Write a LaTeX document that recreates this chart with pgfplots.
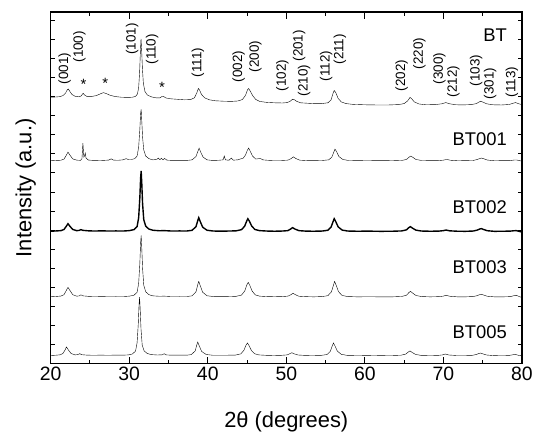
\documentclass[border=0pt]{standalone}
\usepackage{pgfplots}
\pgfplotsset{compat=1.18}
\usepackage{pgfplotstable}
\usepackage{fontspec}
\setmainfont{Liberation Sans}

% XRD patterns, intensity relative to each trace's own baseline
\pgfplotstableread{
x y
20.0 8.2
20.6 8.4
21.2 8.8
21.6 10
21.9 12.5
22.1 15.5
22.25 16.5
22.4 14.5
22.7 11
23.1 9.2
23.6 8.6
23.9 9.6
24.05 11.5
24.15 12
24.3 10.5
24.6 9.0
25.2 9.0
25.8 9.8
26.3 11.5
26.7 12.8
27.1 11.8
27.6 10
28.3 8.8
29.0 8.2
29.8 8.0
30.4 8.2
30.8 9
31.05 11.5
31.2 18
31.32 33
31.42 54
31.5 67
31.58 56
31.68 37
31.8 22
32.0 14
32.3 10.5
32.8 8.6
33.4 7.6
33.9 7.6
34.15 8.8
34.35 9.0
34.7 7.4
35.3 6.6
36.0 6.2
37.0 5.6
37.8 5.8
38.3 7.6
38.6 12.5
38.8 17
38.95 15.5
39.2 11
39.6 7.6
40.2 5.6
41.0 4.6
42.0 4.2
43.0 4.0
43.8 4.4
44.4 5.8
44.8 10
45.05 15.5
45.2 17
45.4 14.5
45.7 10
46.1 6
46.6 4
47.5 3
48.5 2.6
49.5 2.4
50.1 2.8
50.5 4.2
50.8 6.2
51.0 5.8
51.3 4.2
51.8 2.6
52.6 2.2
53.5 1.8
54.5 1.8
55.3 2.6
55.7 5.5
55.95 12
56.1 15
56.3 12.8
56.6 7
57.0 3.5
57.6 1.8
58.5 1.0
60.0 0.6
61.5 0.4
63.0 0.4
64.3 0.8
65.0 1.8
65.45 4.5
65.75 8
65.95 6.8
66.3 3.5
66.9 1.4
67.8 0.6
69.0 0.8
69.8 1.6
70.3 2.8
70.8 1.6
71.6 0.6
72.6 0.5
73.6 0.8
74.2 1.8
74.55 3.4
74.75 4.2
75.0 3.4
75.5 1.6
76.3 0.6
77.4 0.4
78.4 0.9
78.9 2.2
79.2 2.8
79.6 1.6
80.0 0.8
}\bt

\pgfplotstableread{
x y
20.0 0.3
20.7 0.6
21.3 0.8
21.7 2.0
22.0 6.0
22.2 9.0
22.45 6.0
22.8 2.2
23.3 0.9
23.8 0.7
23.98 2.5
24.1 18
24.22 4
24.3 5
24.4 8
24.5 3
24.8 1.0
25.5 0.6
26.2 0.8
26.8 0.7
27.4 1.0
27.7 2.2
28.0 0.9
28.6 0.8
29.2 1.2
29.6 2.4
29.9 1.5
30.3 1.6
30.7 2.4
31.0 5
31.2 14
31.35 32
31.45 48
31.52 52
31.6 40
31.7 24
31.85 11
32.1 5
32.5 2.4
33.0 1.2
33.5 1.6
33.7 3.0
33.9 1.4
34.1 2.8
34.3 1.2
34.5 2.6
34.8 0.9
35.6 0.6
36.5 0.7
37.3 0.6
38.0 1.2
38.5 4.5
38.75 10
38.9 13
39.1 9
39.4 4
39.9 1.2
40.6 0.6
41.4 0.8
41.95 1.2
42.1 5
42.25 1.2
42.7 0.8
43.0 3
43.25 0.9
43.8 1.2
44.2 2.2
44.5 2.8
44.8 6
45.05 11
45.2 13
45.4 10
45.7 5
46.1 2.0
46.5 2.4
46.7 2.6
47.0 1.2
47.6 0.8
48.5 0.5
49.4 0.6
50.2 0.9
50.6 2.4
50.9 4.2
51.2 2.6
51.7 0.9
52.6 0.5
53.6 0.4
54.6 0.6
55.4 1.2
55.8 4
56.05 9
56.2 12
56.4 9.5
56.7 4.5
57.2 1.6
57.9 0.6
59.0 0.4
60.5 0.3
62.0 0.5
63.5 0.3
64.7 0.6
65.3 1.6
65.65 4
65.85 5
66.1 3.8
66.5 1.6
67.2 0.6
68.3 0.4
69.4 0.5
70.0 0.9
70.45 1.6
70.9 0.8
71.8 0.3
72.8 0.4
73.8 0.6
74.3 1.5
74.65 2.6
74.85 3.0
75.1 2.4
75.6 1.0
76.5 0.3
77.6 0.4
78.5 0.5
79.0 1.0
79.3 1.1
79.7 0.4
80.0 0.0
}\btA

\pgfplotstableread{
x y
20.0 0.4
20.7 0.7
21.3 1.0
21.7 2.2
22.0 5.6
22.2 8.0
22.45 5.4
22.8 2.2
23.3 1.0
23.6 1.2
23.85 2.0
24.1 1.3
24.8 0.8
25.6 0.6
26.5 0.8
27.4 0.6
28.3 0.7
29.2 0.6
30.0 1.0
30.6 2.0
31.0 5
31.2 14
31.35 34
31.45 54
31.52 61
31.6 48
31.7 28
31.85 12
32.1 5.5
32.5 2.6
33.0 1.4
33.8 0.9
34.5 1.0
35.4 0.6
36.4 0.7
37.3 0.6
38.0 1.3
38.5 5
38.72 11
38.85 14
39.05 10
39.35 4.5
39.9 1.4
40.7 0.6
41.7 0.5
42.7 0.6
43.6 0.8
44.3 2
44.7 5.5
44.95 10.5
45.1 13
45.3 10.5
45.6 5.5
46.0 2.2
46.6 1.0
47.5 0.6
48.5 0.4
49.5 0.6
50.2 1.0
50.55 2.6
50.8 4.0
51.1 2.6
51.6 1.0
52.5 0.5
53.5 0.4
54.6 0.6
55.3 1.4
55.7 4.5
55.95 10
56.1 13
56.3 10
56.6 4.8
57.1 1.6
57.8 0.6
59.0 0.4
60.5 0.5
62.0 0.3
63.5 0.4
64.7 0.7
65.3 1.8
65.6 4
65.8 5
66.05 3.6
66.5 1.5
67.2 0.6
68.3 0.4
69.4 0.5
70.0 1.0
70.35 1.6
70.8 0.8
71.8 0.4
72.8 0.3
73.8 0.6
74.3 1.5
74.65 2.7
74.85 3.0
75.1 2.2
75.6 0.9
76.5 0.3
77.6 0.4
78.5 0.5
79.0 0.9
79.3 1.0
79.7 0.2
80.0 -0.4
}\btB

\pgfplotstableread{
x y
20.0 0.5
20.7 0.8
21.3 1.2
21.7 2.6
22.0 7
22.2 10
22.45 6.8
22.8 2.6
23.3 1.1
23.6 1.3
23.85 2.4
24.1 1.4
24.8 0.9
25.6 0.7
26.5 0.9
27.4 0.7
28.3 0.8
29.2 0.7
30.0 1.1
30.6 2.0
31.0 5
31.2 14
31.35 34
31.45 55
31.52 62
31.6 49
31.7 29
31.85 12
32.1 5.5
32.5 2.6
33.0 1.4
33.8 1.0
34.5 1.1
35.4 0.7
36.4 0.8
37.3 0.7
38.0 1.4
38.5 5.5
38.72 12.5
38.85 16
39.05 11.5
39.35 5
39.9 1.5
40.7 0.7
41.7 0.6
42.7 0.7
43.6 0.9
44.3 2.2
44.7 6.2
44.95 12
45.15 15
45.35 12
45.65 6.2
46.05 2.4
46.6 1.1
47.5 0.7
48.5 0.5
49.5 0.7
50.2 1.1
50.6 2.6
50.85 4.0
51.15 2.6
51.6 1.0
52.5 0.6
53.5 0.4
54.6 0.7
55.3 1.6
55.75 5.5
56.0 12
56.15 16
56.35 12
56.65 5.6
57.1 1.8
57.8 0.7
59.0 0.4
60.5 0.5
62.0 0.4
63.5 0.4
64.7 0.8
65.3 2.0
65.6 4.6
65.8 6
66.05 4.4
66.5 1.8
67.2 0.7
68.3 0.4
69.4 0.6
70.0 1.1
70.35 2.0
70.8 1.0
71.8 0.4
72.8 0.4
73.8 0.7
74.3 1.6
74.65 2.7
74.85 3.0
75.1 2.3
75.6 1.0
76.5 0.4
77.6 0.4
78.5 0.6
79.0 1.6
79.25 2.0
79.7 0.6
80.0 -0.3
}\btC

\pgfplotstableread{
x y
20.0 0.4
20.7 0.7
21.2 1.1
21.55 2.4
21.85 6.2
22.0 9
22.25 6
22.6 2.4
23.1 1.0
23.45 1.3
23.7 2.2
23.95 1.2
24.6 0.8
25.5 0.6
26.4 0.8
27.3 0.6
28.2 0.8
29.1 0.7
29.9 1.0
30.4 1.9
30.8 4.8
31.0 13
31.15 32
31.25 52
31.32 59
31.4 46
31.5 27
31.65 11
31.9 5
32.3 2.4
32.8 1.3
33.6 0.9
34.2 1.1
34.45 2.2
34.7 1.0
35.4 0.7
36.4 0.8
37.3 0.7
37.9 1.3
38.4 5
38.6 11
38.72 14
38.92 10
39.22 4.5
39.8 1.4
40.6 0.7
41.6 0.6
42.6 0.7
43.5 0.8
44.2 2
44.6 5.6
44.85 10.5
45.05 13
45.25 10.5
45.55 5.5
45.95 2.2
46.5 1.0
47.4 0.6
48.4 0.4
49.4 0.6
50.1 1.0
50.45 2.2
50.7 3.2
51.0 2.1
51.5 0.9
52.4 0.5
53.4 0.4
54.5 0.6
55.2 1.4
55.6 4.6
55.85 10
56.0 13
56.2 10
56.5 4.8
57.0 1.6
57.7 0.6
58.9 0.4
60.4 0.5
61.9 0.3
63.4 0.4
64.6 0.7
65.2 1.8
65.55 4
65.75 5
66.0 3.6
66.45 1.5
67.1 0.6
68.2 0.4
69.3 0.5
69.9 1.0
70.25 1.9
70.7 0.9
71.7 0.4
72.7 0.4
73.7 0.6
74.2 1.4
74.55 2.5
74.75 2.8
75.0 2.1
75.5 0.9
76.4 0.3
77.5 0.4
78.4 0.5
78.9 1.2
79.15 1.5
79.6 0.5
80.0 0.1
}\btE

\begin{document}
\begin{tikzpicture}
\begin{axis}[
    width=474pt, height=354pt, scale only axis,
    xmin=20, xmax=80, ymin=0, ymax=354,
    xtick={20,30,...,80},
    minor xtick={25,35,...,75},
    ytick={19.2,38.4,...,345.6},
    yticklabels={},
    ytick style={/pgfplots/major tick length=4pt},
    tick align=inside,
    tick pos=both,
    major tick length=7pt, minor tick length=4pt,
    axis line style={line width=1.2pt},
    every tick/.style={black, line width=1pt},
    every minor tick/.style={black, line width=1pt},
    /pgf/number format/assume math mode=true,
    tick label style={font=\fontsize{19.5}{19.5}\selectfont},
    xlabel={2θ (degrees)},
    ylabel={Intensity (a.u.)},
    label style={font=\fontsize{22}{22}\selectfont},
    xlabel style={at={(axis description cs:0.5,-0.165)}, anchor=center},
    ylabel style={at={(axis description cs:-0.053,0.5)}, anchor=center},
    cycle list={{black, no markers, line width=1.4pt, line join=round}},
    clip=false,
]
\addplot table[x=x, y expr=\thisrow{y}+260] {\bt};
\addplot table[x=x, y expr=\thisrow{y}+204] {\btA};
\addplot table[x=x, y expr=\thisrow{y}+133] {\btB};
\addplot table[x=x, y expr=\thisrow{y}+67] {\btC};
\addplot table[x=x, y expr=\thisrow{y}+8] {\btE};

% sample names
\begin{scope}[every node/.style={font=\fontsize{18.5}{18.5}\selectfont, anchor=base east, inner sep=0pt}]
\node at (axis cs:78.1,324) {BT};
\node at (axis cs:78.1,220) {BT001};
\node at (axis cs:78.1,151) {BT002};
\node at (axis cs:78.1,91) {BT003};
\node at (axis cs:78.1,26) {BT005};
\end{scope}

% Miller indices
\begin{scope}[every node/.style={font=\fontsize{13.5}{13.5}\selectfont, rotate=90, anchor=west, inner sep=0pt}]
\node at (axis cs:21.77,281) {(001)};
\node at (axis cs:23.67,303) {(100)};
\node at (axis cs:30.38,311) {(101)};
\node at (axis cs:32.91,301) {(110)};
\node at (axis cs:38.73,288) {(111)};
\node at (axis cs:43.92,283) {(002)};
\node at (axis cs:46.08,293) {(200)};
\node at (axis cs:49.49,274) {(102)};
\node at (axis cs:51.65,304) {(201)};
\node at (axis cs:52.28,269) {(210)};
\node at (axis cs:55.06,284) {(112)};
\node at (axis cs:56.84,301) {(211)};
\node at (axis cs:64.68,274) {(202)};
\node at (axis cs:66.96,296) {(220)};
\node at (axis cs:69.49,281) {(300)};
\node at (axis cs:71.27,268) {(212)};
\node at (axis cs:74.18,279) {(103)};
\node at (axis cs:75.95,266) {(301)};
\node at (axis cs:78.73,268) {(113)};
\end{scope}

% impurity markers
\begin{scope}[every node/.style={font=\fontsize{15}{15}\selectfont, inner sep=0pt}]
\node at (axis cs:24.18,281) {*};
\node at (axis cs:26.96,282) {*};
\node at (axis cs:34.18,278) {*};
\end{scope}
\end{axis}
\path (current axis.south west) ++(-51pt,-67pt) rectangle ++(536pt,433pt);
\end{tikzpicture}
\end{document}
